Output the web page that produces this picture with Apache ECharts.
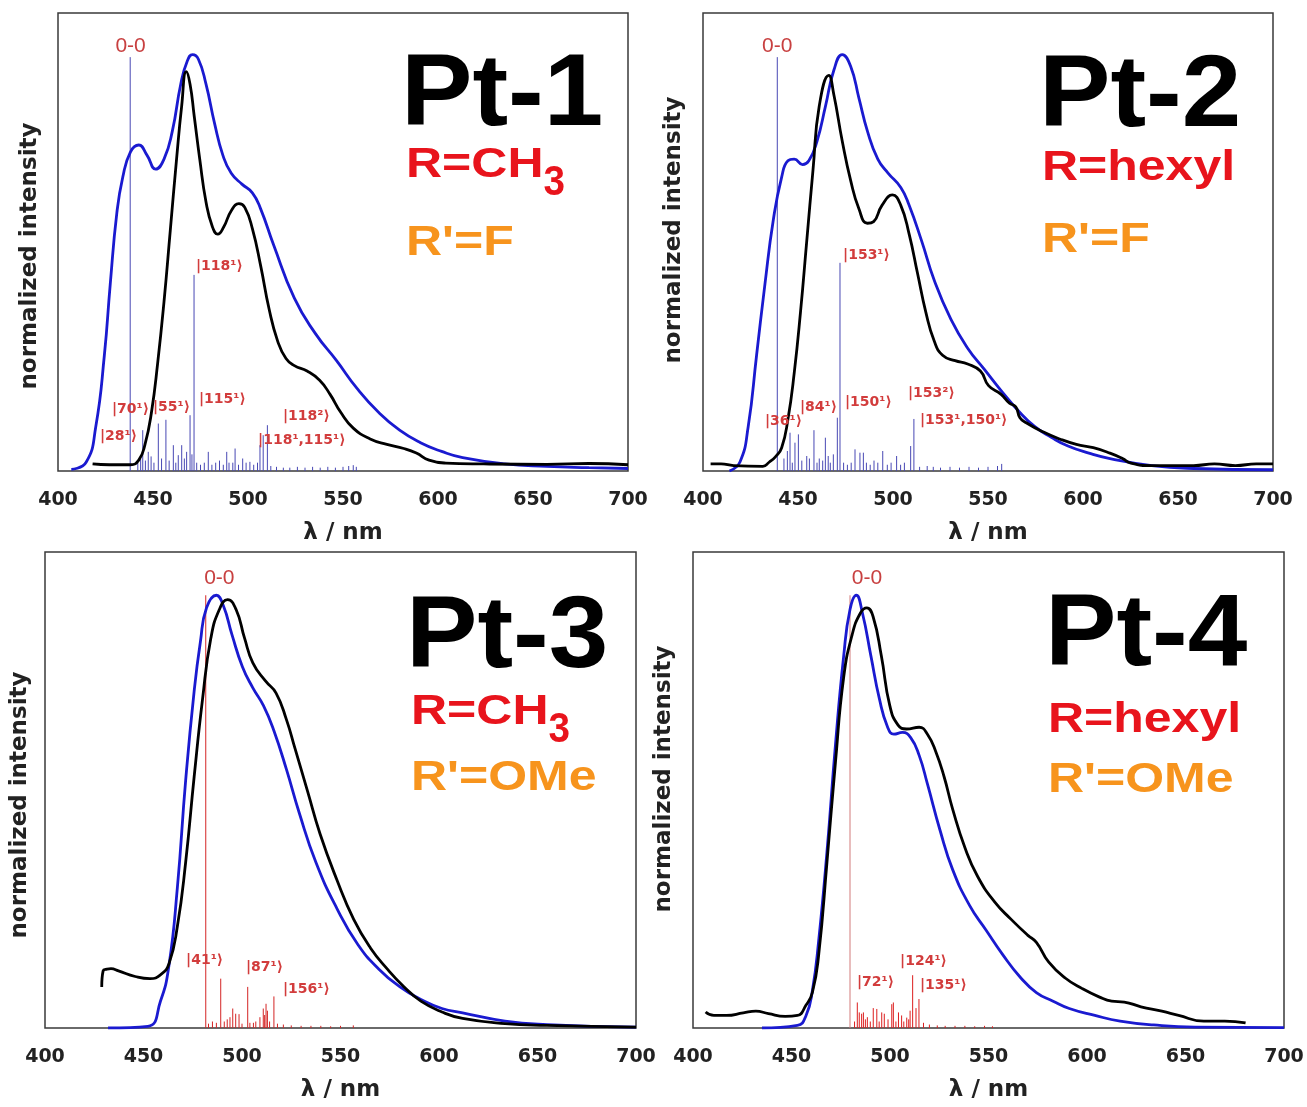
<!DOCTYPE html>
<html>
<head>
<meta charset="utf-8">
<script src="https://cdn.jsdelivr.net/npm/echarts@6/dist/echarts.min.js"></script>
<style>html,body{margin:0;padding:0;background:#fff}#c{width:1307px;height:1107px}</style>
</head>
<body>
<div id="c"></div>
<script>
// ---------- tick labels ----------
const LAMBDA_TICKS = [400, 450, 500, 550, 600, 650, 700];

// ---------- Pt-1 ----------
const pt1Blue = [[407,0.004],[414.8,0.021],[419.9,0.107],[424.4,0.278],[427.5,0.449],[431,0.621],[434.1,0.706],[438.1,0.766],[442.5,0.783],[446.9,0.758],[451.4,0.725],[455.8,0.749],[460.2,0.817],[464.6,0.929],[468,0.984],[470.8,1.0],[473.9,0.989],[477.9,0.929],[482.4,0.835],[486.8,0.758],[491.2,0.715],[496.8,0.689],[502.3,0.668],[506.7,0.629],[513.4,0.544],[524.4,0.415],[535.5,0.330],[546.6,0.265],[557.6,0.197],[568.7,0.141],[579.8,0.098],[590.8,0.068],[601.9,0.047],[613,0.032],[635.1,0.017],[657.3,0.011],[679.4,0.008],[700,0.006]];
const pt1Black = [[418.2,0.017],[427,0.015],[438.1,0.015],[442.5,0.026],[445.8,0.064],[449.2,0.141],[452.5,0.261],[455.8,0.407],[459.1,0.578],[462.4,0.749],[465.1,0.877],[467.5,0.959],[469.5,0.929],[471.7,0.852],[474.6,0.749],[477.9,0.646],[481.3,0.586],[484.1,0.569],[487.2,0.586],[491.2,0.625],[495.2,0.642],[498.3,0.633],[502.3,0.582],[506.7,0.492],[511.1,0.389],[515.6,0.312],[520,0.270],[524.4,0.253],[531.1,0.240],[537.7,0.218],[543.2,0.184],[548.8,0.141],[555.4,0.103],[564.3,0.077],[573.1,0.064],[582,0.054],[588.6,0.043],[595.3,0.026],[604.1,0.019],[624.1,0.017],[657.3,0.016],[679.4,0.018],[700,0.015]];
const pt1Sticks = [[438.0,0.994],[442.0,0.02],[443.5,0.03],[444.6,0.098],[446,0.025],[447.5,0.046],[449,0.035],[450.5,0.02],[452.8,0.114],[454.5,0.03],[456.8,0.123],[458.5,0.025],[460.7,0.062],[462,0.02],[463.3,0.038],[465.1,0.062],[466.5,0.03],[467.7,0.046],[469.5,0.134],[470.5,0.04],[471.6,0.471],[473,0.02],[475,0.015],[477,0.02],[479.1,0.046],[481,0.015],[483,0.02],[485,0.025],[487,0.015],[488.8,0.046],[490,0.02],[492,0.02],[493.2,0.054],[495,0.015],[497.2,0.03],[499,0.02],[501,0.022],[503,0.015],[505,0.02],[506.3,0.062],[508,0.086],[510.2,0.11],[512,0.012],[515,0.01],[518.6,0.008],[522,0.008],[526,0.01],[530,0.008],[534,0.01],[538,0.008],[542,0.01],[546,0.008],[550,0.01],[553,0.012],[555.4,0.014],[557,0.01]];
const pt1NoteText = ['|28\u00b9\u27e9','|70\u00b9\u27e9','|55\u00b9\u27e9','|115\u00b9\u27e9','|118\u00b9\u27e9','|118\u00b2\u27e9','|118\u00b9,115\u00b9\u27e9'];
const pt1NotePos = [[422.1,0.084],[428.4,0.149],[450,0.154],[474.2,0.171],[472.6,0.492],[518.4,0.132],[505.3,0.074]];
const pt1ZeroPos = [[438.2,1.02]];

// ---------- Pt-2 ----------
const pt2Blue = [[413.9,0],[419.4,0.021],[423.8,0.107],[428.2,0.278],[432.6,0.449],[437,0.603],[441.4,0.706],[444.7,0.745],[448,0.749],[452.4,0.736],[455.7,0.745],[460,0.792],[464.5,0.877],[468.9,0.963],[473.3,1.0],[477.7,0.972],[482.1,0.895],[486.5,0.817],[492,0.749],[497.5,0.715],[504.1,0.681],[508.5,0.638],[515.1,0.552],[521.7,0.458],[530.5,0.364],[539.3,0.295],[548.1,0.244],[556.9,0.193],[565.7,0.146],[574.5,0.107],[583.3,0.081],[592.1,0.060],[603.1,0.043],[614.2,0.030],[636.2,0.013],[658.2,0.006],[700,0.003]];
const pt2Black = [[404,0.017],[409.5,0.017],[416.1,0.013],[431.5,0.011],[434.8,0.021],[438.1,0.034],[441.4,0.056],[444.7,0.124],[448,0.235],[451.3,0.381],[454.6,0.552],[457.9,0.723],[461.2,0.877],[466.2,0.950],[468.9,0.903],[473.3,0.792],[477.7,0.698],[482.1,0.629],[486.5,0.595],[489.8,0.599],[494.2,0.638],[499.7,0.663],[504.1,0.638],[508.5,0.569],[512.9,0.475],[517.3,0.381],[521.7,0.312],[526.1,0.278],[532.7,0.265],[539.3,0.257],[546,0.240],[550.3,0.205],[556.9,0.184],[561.3,0.163],[564.6,0.154],[566.8,0.128],[570.1,0.116],[578.9,0.094],[587.7,0.077],[596.5,0.064],[605.4,0.056],[614.2,0.043],[620.8,0.030],[625.2,0.019],[636.2,0.013],[658.2,0.013],[669.2,0.017],[680.2,0.013],[691.2,0.017],[700,0.017]];
const pt2Sticks = [[439.1,0.994],[442.6,0.03],[444.4,0.048],[445.8,0.092],[447,0.02],[448.4,0.068],[450.2,0.088],[452,0.025],[454.6,0.036],[456,0.03],[458.4,0.098],[460,0.02],[461.2,0.03],[463,0.025],[464.4,0.08],[465.9,0.036],[467,0.02],[468.6,0.04],[470.7,0.128],[472.1,0.50],[474,0.02],[476,0.015],[478,0.02],[480,0.052],[482.6,0.044],[484.4,0.044],[486,0.02],[488,0.015],[490,0.025],[492,0.02],[494.6,0.048],[497,0.015],[499,0.02],[501.9,0.036],[504,0.015],[506,0.02],[509.3,0.06],[511,0.125],[514,0.01],[518,0.012],[521.2,0.01],[525,0.008],[530,0.01],[535,0.008],[540,0.01],[545,0.008],[550,0.01],[555,0.012],[557.2,0.017]];
const pt2NoteText = ['|36\u00b9\u27e9','|84\u00b9\u27e9','|150\u00b9\u27e9','|153\u00b9\u27e9','|153\u00b2\u27e9','|153\u00b9,150\u00b9\u27e9'];
const pt2NotePos = [[432.6,0.120],[451,0.154],[474.7,0.166],[473.7,0.519],[507.9,0.187],[514.2,0.122]];
const pt2ZeroPos = [[439.1,1.02]];

// ---------- Pt-3 ----------
const pt3Blue = [[432,0],[452.2,0.004],[458.6,0.062],[462.9,0.144],[467.2,0.325],[471.4,0.572],[475.7,0.778],[478.9,0.893],[482,0.971],[487,1.0],[490.6,0.975],[494.9,0.909],[500.2,0.835],[505.5,0.786],[510.9,0.745],[516.2,0.687],[522.6,0.597],[529,0.498],[537.5,0.383],[548.2,0.276],[558.8,0.193],[569.5,0.136],[580.2,0.095],[590.8,0.066],[601.5,0.045],[612,0.035],[633.5,0.016],[654.8,0.008],[700,0.002]];
const pt3Black = [[428.8,0.095],[429.5,0.132],[431.5,0.136],[433.5,0.137],[437.3,0.132],[445.8,0.119],[453.3,0.114],[458.6,0.123],[462.9,0.148],[467.2,0.235],[471.4,0.383],[475.7,0.580],[480,0.761],[484.2,0.901],[488.5,0.967],[492.7,0.990],[497,0.967],[501.3,0.901],[505.5,0.844],[511.9,0.802],[517.3,0.774],[522.6,0.712],[526.9,0.646],[533.3,0.547],[539.6,0.449],[548.2,0.342],[556.7,0.251],[565.2,0.185],[573.8,0.136],[582.3,0.095],[590.8,0.062],[601.5,0.037],[612,0.022],[633.5,0.010],[654.8,0.006],[700,0.002]];
const pt3Sticks = [[481.6,1.0],[483,0.01],[485,0.015],[487,0.012],[489.2,0.114],[491,0.015],[492.5,0.02],[493.9,0.025],[495.3,0.045],[496.8,0.033],[498.5,0.032],[500,0.01],[502.9,0.095],[504,0.012],[505.8,0.012],[507,0.015],[509.1,0.025],[510.8,0.045],[511.5,0.03],[512.2,0.056],[512.9,0.04],[514,0.015],[516.2,0.073],[518,0.01],[521,0.008],[525,0.006],[530,0.005],[535,0.005],[540,0.005],[545,0.004],[550,0.005],[556.5,0.006]];
const pt3NoteText = ['|41\u00b9\u27e9','|87\u00b9\u27e9','|156\u00b9\u27e9'];
const pt3NotePos = [[471.6,0.157],[502,0.139],[520.8,0.090]];
const pt3ZeroPos = [[488.5,1.04]];

// ---------- Pt-4 ----------
const pt4Blue = [[435,0],[453,0.006],[457.4,0.029],[460.6,0.086],[463.8,0.202],[468,0.407],[472.3,0.654],[476.5,0.860],[479.7,0.967],[482.9,1.0],[486,0.959],[490.3,0.860],[494.6,0.761],[498.8,0.695],[502,0.679],[506.3,0.683],[510.5,0.671],[514.8,0.630],[519,0.564],[525.4,0.457],[531.8,0.366],[540.3,0.284],[548.8,0.226],[557.3,0.169],[565.8,0.119],[574.3,0.082],[582.8,0.062],[591,0.045],[604,0.029],[616.8,0.016],[633.8,0.007],[655,0.002],[700,0.001]];
const pt4Black = [[406.4,0.037],[410.6,0.029],[417,0.029],[425.5,0.035],[431.9,0.039],[438.3,0.033],[446.8,0.027],[453,0.029],[457.4,0.053],[460.6,0.082],[463.8,0.169],[468,0.383],[472.3,0.613],[476.5,0.811],[480.8,0.909],[485,0.959],[488.2,0.971],[491.4,0.951],[495.6,0.860],[499.9,0.745],[504.1,0.700],[508.4,0.691],[514.8,0.695],[519,0.679],[523.3,0.638],[527.5,0.580],[531.8,0.506],[538.1,0.416],[544.5,0.350],[553,0.292],[561.5,0.251],[570,0.214],[574.3,0.198],[580.6,0.152],[589.1,0.115],[597.6,0.091],[606.1,0.072],[612.5,0.062],[618.9,0.060],[627.4,0.049],[638,0.039],[646.5,0.029],[659.3,0.016],[669.9,0.016],[680.5,0.012]];
const pt4Sticks = [[482,0.015],[483.4,0.059],[484.4,0.036],[485.6,0.033],[486.5,0.036],[487.5,0.02],[488.5,0.025],[490,0.015],[491.5,0.046],[493.3,0.044],[494.5,0.015],[495.8,0.036],[497.1,0.033],[499,0.02],[500.9,0.055],[501.7,0.059],[503,0.015],[504.3,0.036],[505.9,0.029],[507,0.015],[508.5,0.024],[509.5,0.02],[510.2,0.04],[511.5,0.122],[513.2,0.046],[514.7,0.067],[517,0.012],[520,0.008],[524,0.006],[528,0.005],[533,0.005],[538,0.005],[543,0.004],[548,0.005],[552,0.004]];
const pt4ZeroLine = [[479.7,1.0]];
const pt4NoteText = ['|72\u00b9\u27e9','|124\u00b9\u27e9','|135\u00b9\u27e9'];
const pt4NotePos = [[483.2,0.106],[505.1,0.153],[515.2,0.099]];
const pt4ZeroPos = [[488.3,1.04]];

// ---------- build ----------
const BLUE = '#1a1ad0', BLACK = '#000000';
const NOTE_RED = '#d23c3c';
const grids = [
  {left: 58, top: 13, width: 570, height: 458},
  {left: 703, top: 13, width: 570, height: 458},
  {left: 45, top: 552, width: 591, height: 476},
  {left: 693, top: 552, width: 591, height: 476}
];
const panels = [
  {blue: pt1Blue, black: pt1Black, sticks: [{d: pt1Sticks, c: '#4848b4'}], notes: pt1NotePos, noteText: pt1NoteText, zero: pt1ZeroPos},
  {blue: pt2Blue, black: pt2Black, sticks: [{d: pt2Sticks, c: '#4848b4'}], notes: pt2NotePos, noteText: pt2NoteText, zero: pt2ZeroPos},
  {blue: pt3Blue, black: pt3Black, sticks: [{d: pt3Sticks, c: '#d42424'}], notes: pt3NotePos, noteText: pt3NoteText, zero: pt3ZeroPos},
  {blue: pt4Blue, black: pt4Black, sticks: [{d: pt4Sticks, c: '#dc1e1e'}, {d: pt4ZeroLine, c: '#d27a7a'}], notes: pt4NotePos, noteText: pt4NoteText, zero: pt4ZeroPos}
];

const xAxis = [], yAxis = [], series = [];
grids.forEach((g, i) => {
  Object.assign(g, {show: true, borderColor: '#3a3a3a', borderWidth: 1.5, backgroundColor: 'transparent'});
  xAxis.push({
    gridIndex: i, type: 'value',
    min: LAMBDA_TICKS[0], max: LAMBDA_TICKS[LAMBDA_TICKS.length - 1],
    interval: LAMBDA_TICKS[1] - LAMBDA_TICKS[0],
    axisLine: {show: false}, axisTick: {show: false}, splitLine: {show: false},
    axisLabel: {margin: 20, fontFamily: 'DejaVu Sans', fontWeight: 'bold', fontSize: 19, color: '#222', showMinLabel: true, showMaxLabel: true},
    name: '\u03bb / nm', nameLocation: 'middle', nameGap: 51,
    nameTextStyle: {fontFamily: 'DejaVu Sans', fontWeight: 'bold', fontSize: 23, color: '#222'}
  });
  yAxis.push({gridIndex: i, type: 'value', min: 0, max: 1.1, show: false});
  const p = panels[i];
  p.sticks.forEach(s => {
    series.push({
      type: 'custom', xAxisIndex: i, yAxisIndex: i, data: s.d, z: 2, silent: true,
      encode: {x: 0, y: 1},
      renderItem: (params, api) => {
        const a = api.coord([api.value(0), 0]);
        const b = api.coord([api.value(0), api.value(1)]);
        return {type: 'line', shape: {x1: a[0], y1: a[1], x2: b[0], y2: b[1]}, style: {stroke: s.c, lineWidth: 1}};
      }
    });
  });
  series.push({type: 'line', xAxisIndex: i, yAxisIndex: i, data: p.blue, showSymbol: false, smooth: 0.5, lineStyle: {color: BLUE, width: 2.8}, z: 3, silent: true});
  series.push({type: 'line', xAxisIndex: i, yAxisIndex: i, data: p.black, showSymbol: false, smooth: 0.5, lineStyle: {color: BLACK, width: 2.8}, z: 4, silent: true});
  series.push({
    type: 'custom', xAxisIndex: i, yAxisIndex: i, data: p.notes, z: 5, silent: true, encode: {x: 0, y: 1},
    renderItem: (params, api) => {
      const c = api.coord([api.value(0), api.value(1)]);
      return {type: 'text', x: c[0], y: c[1], style: {text: p.noteText[params.dataIndex], font: 'bold 14px "DejaVu Sans"', fill: NOTE_RED, align: 'left', verticalAlign: 'middle'}};
    }
  });
  series.push({
    type: 'custom', xAxisIndex: i, yAxisIndex: i, data: p.zero, z: 5, silent: true, encode: {x: 0, y: 1},
    renderItem: (params, api) => {
      const c = api.coord([api.value(0), api.value(1)]);
      return {type: 'text', x: c[0], y: c[1], style: {text: '0-0', font: '21px "Liberation Sans"', fill: '#c84040', align: 'center', verticalAlign: 'middle'}};
    }
  });
});

// ---------- big labels ----------
const TITLE_FONT = '"Liberation Sans", Arial, sans-serif';
function txt(t, x, y, size, color, sx) {
  return {type: 'text', x: x, y: y, scaleX: sx, z: 10, silent: true,
    style: {text: t, font: 'bold ' + size + 'px ' + TITLE_FONT, fill: color, align: 'left', verticalAlign: 'middle'}};
}
const RED = '#e8141c', ORANGE = '#f7941d';
const labelSets = [
  {name: 'Pt-1', r: 'R=CH', sub: '3', r2: "R'=F", x: 401, xs: 406, yn: 97, yr: 165, yr2: 243},
  {name: 'Pt-2', r: 'R=hexyl', sub: '', r2: "R'=F", x: 1039, xs: 1042, yn: 98, yr: 168, yr2: 240},
  {name: 'Pt-3', r: 'R=CH', sub: '3', r2: "R'=OMe", x: 406, xs: 411, yn: 639, yr: 712, yr2: 778},
  {name: 'Pt-4', r: 'R=hexyl', sub: '', r2: "R'=OMe", x: 1045, xs: 1048, yn: 637, yr: 720, yr2: 780}
];
const graphic = [];
labelSets.forEach(L => {
  graphic.push(txt(L.name, L.x, L.yn, 102, '#000', 1.05));
  graphic.push(txt(L.r, L.xs, L.yr, 42, RED, 1.19));
  if (L.sub) graphic.push(txt(L.sub, L.xs + 137.5, L.yr + 18, 42, RED, 0.92));
  graphic.push(txt(L.r2, L.xs, L.yr2, 42, ORANGE, 1.19));
});
// rotated y-axis names
[[30, 256], [674, 230], [20, 805], [664, 779]].forEach(c => {
  graphic.push({type: 'text', x: c[0], y: c[1], rotation: Math.PI / 2, z: 10, silent: true,
    style: {text: 'normalized intensity', font: 'bold 23px "DejaVu Sans"', fill: '#222', align: 'center', verticalAlign: 'middle'}});
});

const chart = echarts.init(document.getElementById('c'), null, {renderer: 'canvas'});
chart.setOption({
  animation: false,
  backgroundColor: '#ffffff',
  grid: grids, xAxis: xAxis, yAxis: yAxis, series: series, graphic: graphic
});
</script>
</body>
</html>
